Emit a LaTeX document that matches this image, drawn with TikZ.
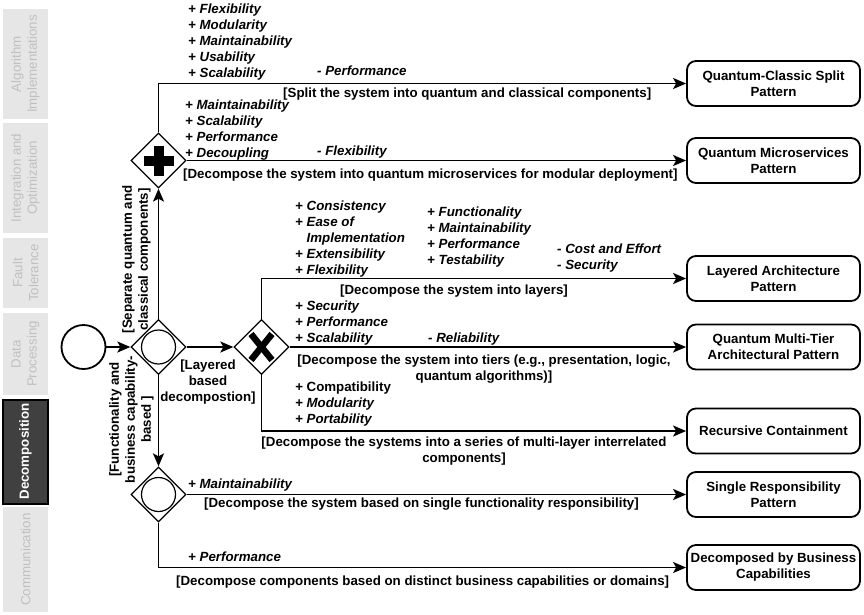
\documentclass[tikz,border=0pt]{standalone}
\usepackage{fontspec}
\setmainfont{Liberation Sans}
\usetikzlibrary{shapes.geometric,arrows.meta}
\definecolor{tabfill}{HTML}{E6E6E6}
\definecolor{tabtext}{HTML}{C0C0C0}
\definecolor{tabdark}{HTML}{404040}
\newcommand\myfs{\fontsize{13.3}{16}\selectfont}
\tikzset{
  arr/.style={line width=1.8pt,-{Stealth[length=13pt,width=11pt,inset=3pt]}},
  gate/.style={diamond,draw,line width=1.3pt,minimum width=55pt,minimum height=55pt,inner sep=0pt,aspect=1,fill=white},
  pat/.style={draw,rounded corners=9pt,line width=1.8pt,minimum width=173pt,minimum height=45pt,align=center,font=\myfs\bfseries,inner sep=0pt},
  lst/.style={anchor=west,inner sep=0pt,align=left,font=\myfs\bfseries\itshape,yshift=-2pt},
  cond/.style={inner sep=0pt,font=\myfs\bfseries,yshift=-1.5pt},
  tab/.style={rotate=90,fill=tabfill,minimum height=45pt,inner sep=0pt,align=center,text=tabtext,font=\myfs},
}
\begin{document}
\begin{tikzpicture}[x=1pt,y=-1pt]
\useasboundingbox (0,0) rectangle (864,614);
% tabs
\node[tab,minimum width=110pt] (t1) at (25.5,64) {Algorithm\\Implementations};
\node[tab,minimum width=110pt] (t2) at (25.5,178) {Integration and\\Optimization};
\node[tab,minimum width=70pt] (t3) at (25.5,273) {Fault\\Tolerance};
\node[tab,minimum width=82pt] (t4) at (25.5,354) {Data\\Processing};
\node[tab,minimum width=104pt,fill=tabdark,draw=black,line width=2pt,text=white,font=\myfs\bfseries] (t5) at (25.5,451.5) {Decomposition};
\node[tab,minimum width=105pt] (t6) at (25.5,559.5) {Communication};
% events and gateways
\node[circle,draw,line width=1.8pt,minimum size=44pt,inner sep=0pt] (start) at (83.5,347) {};
\node[gate] (d1) at (158.5,347) {};
\node[gate] (d2) at (261.5,347) {};
\node[gate] (d3) at (158.5,160.5) {};
\node[gate] (d4) at (158.5,494.5) {};
\draw[line width=1.2pt] (d1.center) circle (17pt);
\draw[line width=1.2pt] (d4.center) circle (17pt);
\draw[line width=10pt] ([shift={(-15,0)}]d3.center) -- ([shift={(15,0)}]d3.center);
\draw[line width=10pt] ([shift={(0,-15)}]d3.center) -- ([shift={(0,15)}]d3.center);
\draw[line width=6.5pt] ([shift={(-10.5,-13)}]d2.center) -- ([shift={(10.5,13)}]d2.center);
\draw[line width=6.5pt] ([shift={(10.5,-13)}]d2.center) -- ([shift={(-10.5,13)}]d2.center);
% pattern boxes
\node[pat] (b1) at (773.5,83.5) {Quantum-Classic Split\\Pattern};
\node[pat] (b2) at (773.5,160.5) {Quantum Microservices\\Pattern};
\node[pat] (b3) at (773.5,278.5) {Layered Architecture\\Pattern};
\node[pat] (b4) at (773.5,347) {Quantum Multi-Tier\\Architectural Pattern};
\node[pat] (b5) at (773.5,431) {Recursive Containment};
\node[pat] (b6) at (773.5,494.5) {Single Responsibility\\Pattern};
\node[pat] (b7) at (773.5,567.5) {Decomposed by Business\\Capabilities};
% connectors
\draw[arr] (start) -- (d1.west);
\draw[arr] (d1.north) -- (d3.south);
\draw[arr] (d1.east) -- (d2.west);
\draw[arr] (d1.south) -- (d4.north);
\draw[arr] (d3.north) |- (b1.west);
\draw[arr] (d3.east) -- (b2.west);
\draw[arr] (d2.north) |- (b3.west);
\draw[arr] (d2.east) -- (b4.west);
\draw[arr] (d2.south) |- (b5.west);
\draw[arr] (d4.east) -- (b6.west);
\draw[arr] (d4.south) |- (b7.west);
% labels: split
\node[lst] (l1) at (188,40.5) {+ Flexibility\\+ Modularity\\+ Maintainability\\+ Usability\\+ Scalability};
\node[lst] (n1) at (317,69) {- Performance};
\node[cond,anchor=west] (c1) at (283,93) {[Split the system into quantum and classical components]};
% microservices
\node[lst] (l2) at (185,128) {+ Maintainability\\+ Scalability\\+ Performance\\+ Decoupling};
\node[lst] (n2) at (317,150) {- Flexibility};
\node[cond,anchor=west] (c2) at (183,174) {[Decompose the system into quantum microservices for modular deployment]};
% vertical conditions
\node[cond,rotate=90,align=center,yshift=1.5pt] (v1) at (138,258) {[Separate quantum and\\classical components]};
\node[cond,rotate=90,align=center,yshift=1.5pt] (v2) at (133,418) {[Functionality and\\business capability-\\based ]};
\node[cond,align=center] (v3) at (208,381) {[Layered\\based\\decompostion]};
% layered
\node[lst] (l3) at (295,237) {+ Consistency\\+ Ease of\\\phantom{+ }Implementation\\+ Extensibility\\+ Flexibility};
\node[lst] (l4) at (427,235) {+ Functionality\\+ Maintainability\\+ Performance\\+ Testability};
\node[lst] (n3) at (557,256.5) {- Cost and Effort\\- Security};
\node[cond,anchor=west] (c3) at (340,290) {[Decompose the system into layers]};
% tiers
\node[lst] (l5) at (295,321) {+ Security\\+ Performance\\+ Scalability};
\node[lst] (n4) at (428,337) {- Reliability};
\node[cond,align=center] (c4) at (484,367.5) {[Decompose the system into tiers (e.g., presentation, logic,\\quantum algorithms)]};
% recursive
\node[lst] (l6) at (295,402) {+ {\upshape Compatibility}\\+ Modularity\\+ Portability};
\node[cond,align=center] (c5) at (464,449.5) {[Decompose the systems into a series of multi-layer interrelated\\components]};
% single responsibility
\node[lst] (l7) at (188,483) {+ Maintainability};
\node[cond,anchor=west] (c6) at (204,503) {[Decompose the system based on single functionality responsibility]};
% business
\node[lst] (l8) at (188,555) {+ Performance};
\node[cond,anchor=west] (c7) at (176,581) {[Decompose components based on distinct business capabilities or domains]};
\end{tikzpicture}
\end{document}
